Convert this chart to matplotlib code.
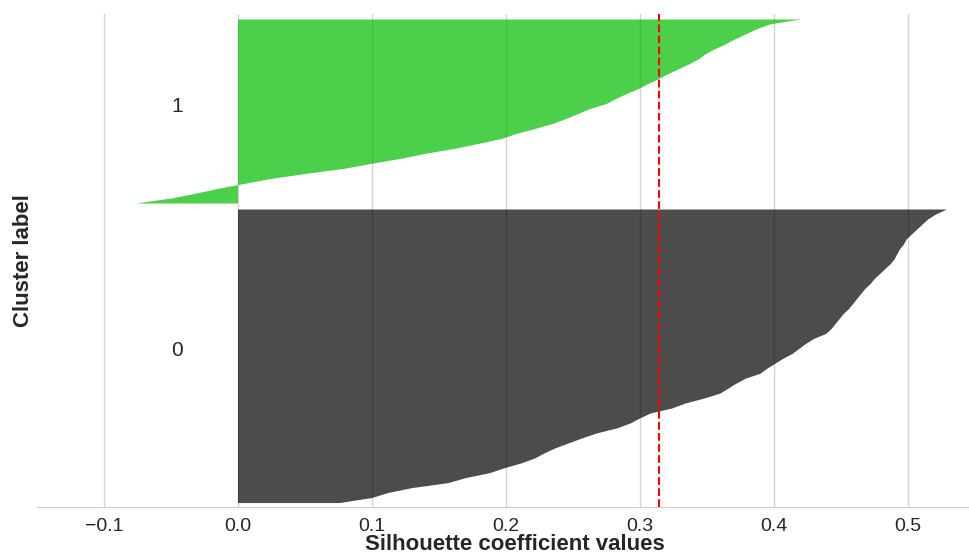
import matplotlib
matplotlib.use("Agg")
import matplotlib.pyplot as plt
import matplotlib.cm as cm
import numpy as np
import seaborn as sns

# ---- data ----
cluster_ids = [0, 1]
# sorted silhouette values, each entry ~ one row-block of samples (bottom -> top)
silhouette_cluster0 = [
    0.076, 0.100, 0.112, 0.130, 0.157, 0.170, 0.188, 0.199, 0.212, 0.222,
    0.229, 0.237, 0.247, 0.257, 0.268, 0.283, 0.293, 0.300, 0.308, 0.324,
    0.334, 0.348, 0.360, 0.366, 0.372, 0.379, 0.390, 0.395, 0.401, 0.407,
    0.414, 0.419, 0.424, 0.430, 0.439, 0.443, 0.446, 0.449, 0.452, 0.456,
    0.459, 0.462, 0.465, 0.468, 0.472, 0.475, 0.479, 0.483, 0.487, 0.490,
    0.492, 0.494, 0.497, 0.499, 0.503, 0.507, 0.511, 0.515, 0.521, 0.529,
]
silhouette_cluster1 = [
    -0.076, -0.050, -0.031, -0.014, 0.006, 0.026, 0.052, 0.080, 0.100, 0.122,
    0.140, 0.162, 0.180, 0.197, 0.208, 0.222, 0.235, 0.245, 0.254, 0.263,
    0.275, 0.282, 0.290, 0.299, 0.306, 0.314, 0.321, 0.329, 0.337, 0.344,
    0.349, 0.356, 0.364, 0.371, 0.379, 0.387, 0.397, 0.420,
]
silhouette_avg = 0.314
x_ticks = [-0.1, 0.0, 0.1, 0.2, 0.3, 0.4, 0.5]
x_label = "Silhouette coefficient values"
y_label = "Cluster label"

# ---- style ----
sns.set_style("whitegrid")
plt.rcParams["font.family"] = ["Liberation Sans", "DejaVu Sans"]
plt.rcParams["axes.unicode_minus"] = True

fig = plt.figure(figsize=(9.69, 5.54), dpi=100)
ax = fig.add_axes([37 / 969, 47 / 554, 932 / 969, 493 / 554])

values_by_cluster = [silhouette_cluster0, silhouette_cluster1]
y_lower = 0.8
gap = 1.2
n_clusters = len(cluster_ids)
for i, vals in zip(cluster_ids, values_by_cluster):
    vals = np.asarray(vals)
    n = len(vals)
    y = y_lower + np.arange(n)
    color = cm.nipy_spectral(float(i) / n_clusters)
    ax.fill_betweenx(y, 0, vals, facecolor=color, edgecolor="none",
                     linewidth=0, alpha=0.7)
    ax.text(-0.05, y_lower + 0.5 * (n - 1), str(i), fontsize=15, color="#262626")
    y_lower = y[-1] + gap

ax.axvline(x=silhouette_avg, color="red", linestyle="--", linewidth=1.5)

ax.set_xlim(-0.15, 0.5455)
ax.set_ylim(0, y_lower - gap + 1.1)
ax.set_yticks([])
ax.set_xticks(x_ticks)
ax.tick_params(axis="x", labelsize=14, pad=4.5, colors="#262626")
ax.grid(axis="y", visible=False)
ax.grid(axis="x", color="#d4d4d4", linewidth=1)
for s in ["left", "top", "right"]:
    ax.spines[s].set_visible(False)
ax.spines["bottom"].set_color("#cccccc")

ax.set_xlabel(x_label, fontsize=16, fontweight="bold", color="#262626")
ax.xaxis.label.set_va("baseline")
ax.xaxis.set_label_coords((515 - 37) / 932, (507 - 550) / 493)
ax.set_ylabel(y_label, fontsize=16, fontweight="bold", color="#262626", labelpad=2)

fig.savefig("out.png", dpi=100)
